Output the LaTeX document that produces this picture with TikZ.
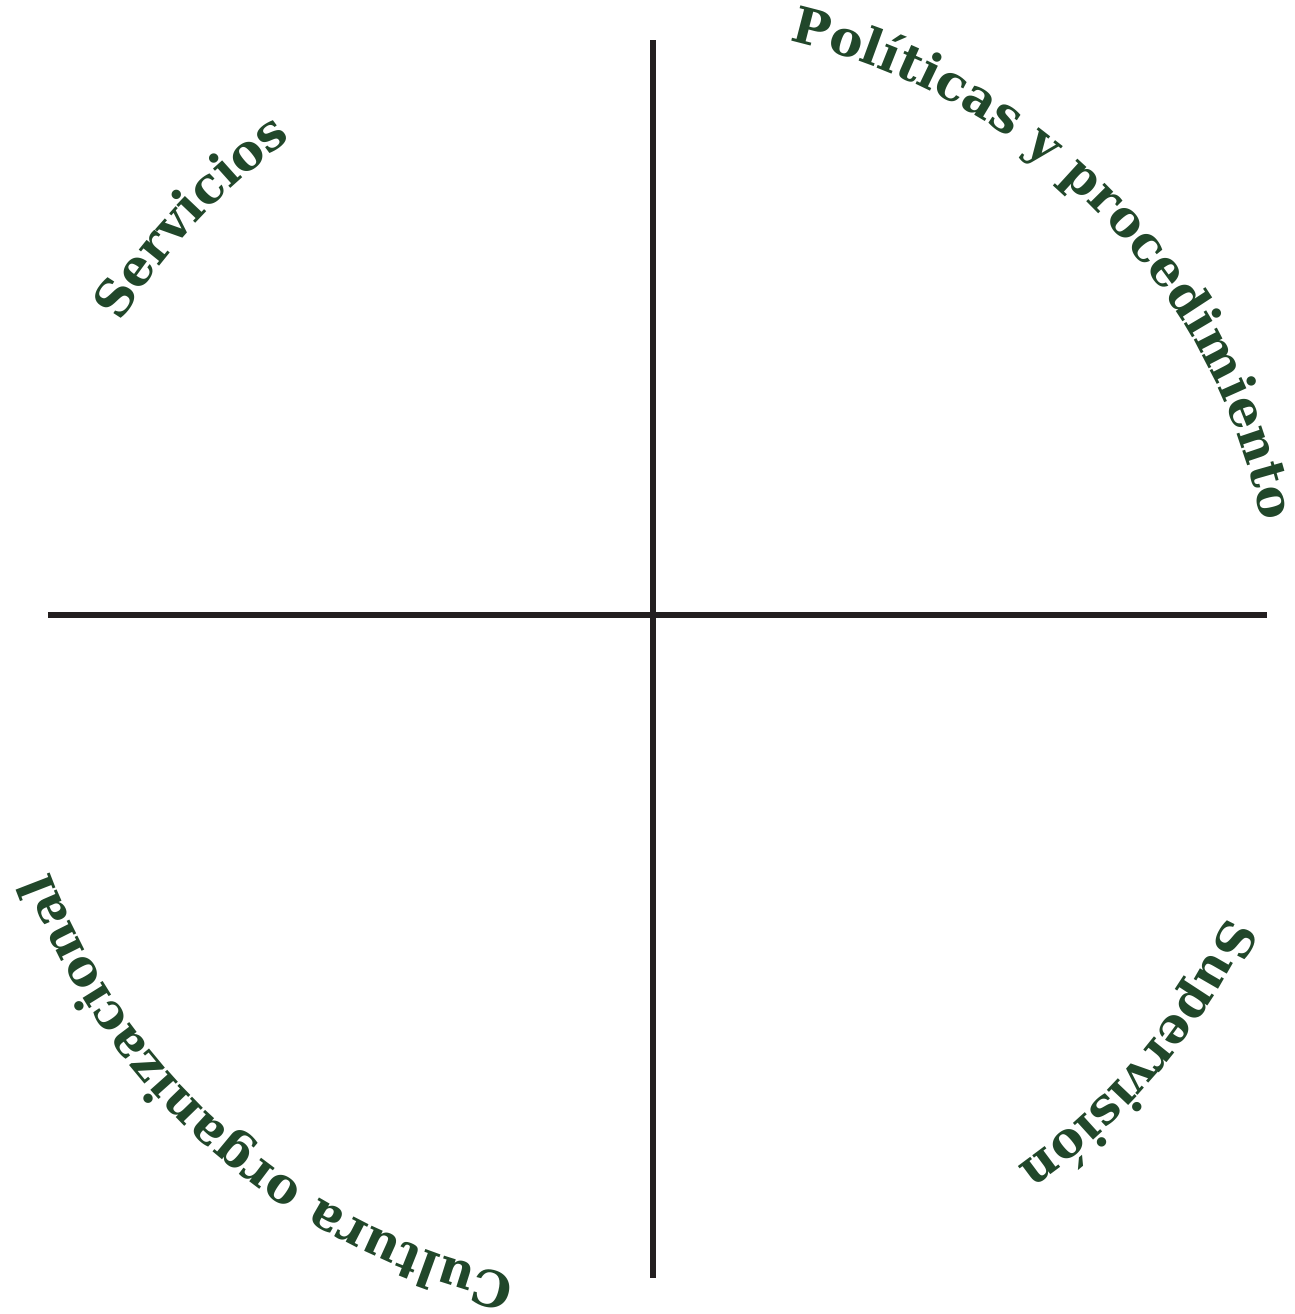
\documentclass[tikz,border=0pt]{standalone}
\usepackage{fontspec}
\usetikzlibrary{decorations.text}
\newfontfamily\slabfont{DejaVu Serif}
\definecolor{axisgray}{HTML}{231F20}
\definecolor{labelgreen}{HTML}{21472A}
\newcommand{\arcfont}{\slabfont\bfseries\fontsize{14.2}{17}\selectfont}

\begin{document}
\begin{tikzpicture}[
        x=0.01cm, y=0.01cm,
        axis/.style={draw=axisgray, line width=1.45pt},
        arclabel/.style={decorate, decoration={text along path, text align=center, text color=labelgreen, text={|\arcfont|#1}}}
    ]
    \useasboundingbox (-653,-699) rectangle (642,615);

    % The cross
    \coordinate (top) at (0,575);
    \coordinate (bottom) at (0,-663);
    \coordinate (left) at (-605,0);
    \coordinate (right) at (614,0);
    \draw [axis] (top) -- (bottom);
    \draw [axis] (left) -- (right);

    % The labels, clockwise round one circle
    \coordinate (ctr) at (0,-33);
    \path [arclabel={Políticas y procedimiento}] ([shift={(95:622)}]ctr) arc[start angle=95, end angle=-6, radius=622];
    \path [arclabel={Servicios}] ([shift={(187:624)}]ctr) arc[start angle=187, end angle=87, radius=624];
    \path [arclabel={Supervisión}] ([shift={(10:634)}]ctr) arc[start angle=10, end angle=-90, radius=634];
    \path [arclabel={Cultura organizacional}] ([shift={(-81:643)}]ctr) arc[start angle=-81, end angle=-181, radius=643];

\end{tikzpicture}
\end{document}
